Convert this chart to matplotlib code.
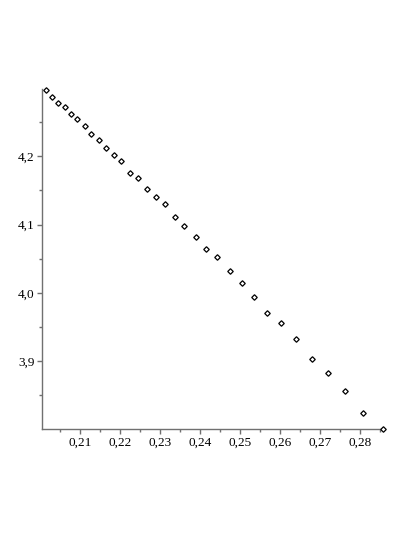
import matplotlib
matplotlib.use("Agg")
import matplotlib.pyplot as plt
from matplotlib.ticker import MultipleLocator, FuncFormatter

x_vals = [0.20143, 0.20293, 0.20458, 0.20618, 0.20768, 0.20925, 0.21118, 0.21275,
          0.21468, 0.21658, 0.21843, 0.22033, 0.22243, 0.22458, 0.22668, 0.22900,
          0.23133, 0.23368, 0.23600, 0.23893, 0.24150, 0.24433, 0.24738, 0.25043,
          0.25350, 0.25683, 0.26033, 0.26408, 0.26793, 0.27200, 0.27633, 0.28083,
          0.28568]
y_vals = [4.2966, 4.2872, 4.2784, 4.2716, 4.2618, 4.2540, 4.2441, 4.2319,
          4.2231, 4.2122, 4.2025, 4.1926, 4.1760, 4.1676, 4.1525, 4.1401,
          4.1304, 4.1113, 4.0985, 4.0824, 4.0643, 4.0529, 4.0324, 4.0143,
          3.9946, 3.9701, 3.9563, 3.9328, 3.9025, 3.8828, 3.8563, 3.8246,
          3.8005]

fig = plt.figure(figsize=(4.15, 5.37), dpi=100)
ax = fig.add_axes([42/415, (537-429.3)/537, 341/415, 340/537])

ax.plot(x_vals, y_vals, linestyle='none', marker='D', markersize=2.8,
        markerfacecolor='white', markeredgecolor='black', markeredgewidth=0.9,
        clip_on=False, zorder=3)

ax.set_xlim(0.2005, 0.28575)
ax.set_ylim(3.8003, 4.298)

for s in ['top', 'right']:
    ax.spines[s].set_visible(False)
for s in ['left', 'bottom']:
    ax.spines[s].set_color('#707070')
    ax.spines[s].set_linewidth(1.0)

ax.xaxis.set_major_locator(MultipleLocator(0.01))
ax.xaxis.set_minor_locator(MultipleLocator(0.005))
ax.yaxis.set_major_locator(MultipleLocator(0.1))
ax.yaxis.set_minor_locator(MultipleLocator(0.05))

ax.xaxis.set_major_formatter(FuncFormatter(lambda v, p: ("%.2f" % v).replace('.', ',')))
ax.yaxis.set_major_formatter(FuncFormatter(lambda v, p: ("%.1f" % v).replace('.', ',')))

ax.tick_params(which='major', direction='out', length=3.5, width=1.0, color='#707070',
               labelsize=9.5, pad=2)
ax.tick_params(which='minor', direction='out', length=2, width=1.0, color='#707070')
for lab in ax.get_xticklabels() + ax.get_yticklabels():
    lab.set_family('Liberation Serif')

fig.savefig('out.png', dpi=100)
